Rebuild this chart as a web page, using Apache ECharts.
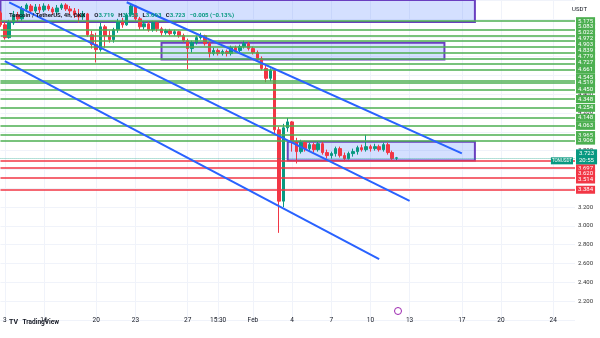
<!DOCTYPE html>
<html><head><meta charset="utf-8">
<script src="https://cdn.jsdelivr.net/npm/echarts@6/dist/echarts.min.js"></script>
<style>html,body{margin:0;padding:0;background:#fff}#c{width:600px;height:338px}</style>
</head><body><div id="c"></div>
<script>
// ---- data ----
const opens = [5.263,5.136,5.000,5.157,5.242,5.200,5.305,5.336,5.284,5.326,
5.294,5.336,5.305,5.273,5.315,5.347,5.305,5.284,5.242,5.221,
5.252,5.031,4.926,4.873,5.115,5.021,4.979,5.084,5.168,5.136,
5.242,5.336,5.200,5.115,5.147,5.084,5.157,5.094,5.052,5.073,
5.042,5.063,5.021,4.968,4.884,4.947,5.000,5.021,4.936,4.831,
4.863,4.831,4.852,4.831,4.894,4.863,4.905,4.936,4.884,4.842,
4.779,4.673,4.568,4.652,4.021,3.263,4.042,4.105,3.894,3.789,
3.884,3.821,3.863,3.810,3.873,3.779,3.747,3.768,3.821,3.747,
3.715,3.768,3.789,3.831,3.810,3.842,3.821,3.842,3.810,3.863,
3.779,3.719];
const closes = [5.136,5.000,5.157,5.242,5.200,5.305,5.347,5.284,5.326,5.294,
5.336,5.305,5.273,5.315,5.347,5.305,5.284,5.242,5.221,5.252,
5.031,4.926,4.873,5.115,5.021,4.979,5.084,5.168,5.136,5.242,
5.336,5.200,5.115,5.147,5.084,5.157,5.094,5.052,5.073,5.042,
5.063,5.021,4.968,4.884,4.947,5.000,5.021,4.936,4.831,4.863,
4.831,4.852,4.831,4.894,4.863,4.905,4.936,4.884,4.842,4.779,
4.673,4.568,4.652,4.021,3.263,4.042,4.105,3.894,3.789,3.884,
3.821,3.863,3.810,3.873,3.779,3.747,3.768,3.821,3.747,3.715,
3.768,3.789,3.831,3.810,3.842,3.821,3.842,3.810,3.863,3.779,
3.715,3.723];
const lows = [5.115,4.979,4.989,5.136,5.168,5.179,5.273,5.263,5.263,5.263,
5.273,5.284,5.242,5.252,5.294,5.284,5.252,5.210,5.157,5.189,
5.010,4.884,4.736,4.852,4.894,4.947,4.947,5.052,5.105,5.126,
5.221,5.179,5.084,5.084,5.063,5.063,5.063,5.021,5.031,5.021,
5.021,5.000,4.947,4.663,4.842,4.926,4.979,4.915,4.789,4.810,
4.810,4.810,4.800,4.810,4.842,4.842,4.884,4.863,4.821,4.757,
4.652,4.526,4.536,3.979,2.926,3.200,4.000,3.789,3.663,3.768,
3.789,3.789,3.779,3.789,3.757,3.715,3.715,3.736,3.726,3.684,
3.705,3.736,3.757,3.789,3.789,3.789,3.800,3.789,3.789,3.757,
3.694,3.693];
const highs = [5.284,5.179,5.189,5.284,5.273,5.336,5.365,5.357,5.357,5.357,
5.365,5.357,5.326,5.347,5.365,5.365,5.336,5.315,5.305,5.284,
5.263,5.073,5.052,5.157,5.136,5.073,5.105,5.200,5.210,5.263,
5.365,5.347,5.221,5.179,5.168,5.179,5.168,5.115,5.094,5.094,
5.084,5.073,5.042,4.989,4.968,5.021,5.052,5.031,4.957,4.894,
4.884,4.873,4.873,4.915,4.915,4.926,4.968,4.957,4.905,4.863,
4.800,4.715,4.673,4.673,4.052,4.084,4.147,4.115,3.936,3.915,
3.905,3.884,3.884,3.894,3.894,3.810,3.789,3.842,3.842,3.779,
3.789,3.821,3.852,3.863,3.968,3.863,3.873,3.863,3.884,3.884,
3.800,3.733];

const slotCount = 133;
const tickIdx  = [1,10,22,31,43,50,58,67,76,85,94,106,115,127];
const tickText = ['3','16','20','23','27','15:30','Feb','4','7','10','13','17','20','24'];
const yTickShown = ['4.400','4.200','3.800','3.200','3.000','2.800','2.600','2.400','2.200'];

const greenLevels = [5.175,5.083,5.022,4.972,4.903,4.839,4.779,4.727,4.661,4.545,4.519,4.450,4.348,4.254,4.148,4.063,3.965,3.906];
const redLevels = [3.697,3.620,3.514,3.384];
const lastPrice = 3.723;
const countdown = '20:55';
const symbolName = 'TONUSDT';

const boxStart = [0, 37, 66];
const boxEnd   = [109, 102, 109];
const boxLow   = [5.165, 4.768, 3.694];
const boxHigh  = [5.45, 4.947, 3.894];

const trendStartX = [2, 29, 1];
const trendStartP = [5.375, 5.376, 4.751];
const trendEndX   = [94, 106, 87];
const trendEndP   = [3.266, 3.770, 2.647];

// ---- styling (label nudges so stacked price tags do not collide, like the original) ----
const greenLabelShift = [0,-3,-3,-2,-2,-2,-2,-1,0,-3,0,0,0,0,0,0,0,0];
const redLabelShift = [8,6,2,0];

// ---- build ----
const UP = '#089981', DOWN = '#f23645', GREEN = '#4caf50', BLUE = '#2962ff';
const categories = Array.from({length: slotCount}, (_, i) => String(i));
const candles = opens.map((o, i) => [o, closes[i], lows[i], highs[i]]);

const levelLabel = (bg, dy) => ({
  show: true, position: 'end', distance: 1, offset: [0, dy || 0],
  formatter: p => p.name,
  color: '#fff', backgroundColor: bg, fontSize: 6, fontFamily: 'Roboto',
  padding: [1, 2, 0, 2], lineHeight: 7
});

const markLineData = [];
greenLevels.forEach((v, i) => markLineData.push({
  name: v.toFixed(3), yAxis: v, lineStyle: {color: GREEN, width: 1.5, type: 'solid', opacity: 1}, label: levelLabel(GREEN, greenLabelShift[i])
}));
redLevels.forEach((v, i) => markLineData.push({
  name: v.toFixed(3), yAxis: v, lineStyle: {color: DOWN, width: 1.5, type: 'solid', opacity: 1}, label: levelLabel(DOWN, redLabelShift[i])
}));
markLineData.push({
  name: lastPrice.toFixed(3) + '\n' + countdown,
  yAxis: lastPrice, lineStyle: {color: 'rgba(8,153,129,0.6)', width: 1, type: 'dotted', opacity: 1},
  label: Object.assign(levelLabel(UP, -1), {padding: [1, 3, 0, 3]})
});
trendStartX.forEach((x, i) => markLineData.push([
  {coord: [trendStartX[i], trendStartP[i]], lineStyle: {color: BLUE, width: 2, type: 'solid', opacity: 1}, label: {show: false}},
  {coord: [trendEndX[i], trendEndP[i]]}
]));

const markAreaData = boxStart.map((x, i) => [
  {coord: [boxStart[i], boxHigh[i]]},
  {coord: [boxEnd[i], boxLow[i]]}
]);

const chart = echarts.init(document.getElementById('c'), null, {renderer: 'canvas'});
chart.setOption({
  animation: false,
  backgroundColor: '#fff',
  textStyle: {fontFamily: 'Roboto'},
  title: [
    {left: 4, top: 1, text: '{n|Toncoin / TetherUS, 4h, OKX}  {k|O}{v|3.719} {k|H}{v|3.733} {k|L}{v|3.693} {k|C}{v|3.723} {v|−0.005 (−0.13%)}',
      textStyle: {rich: {
        n: {fontSize: 6, color: '#131722', fontFamily: 'Roboto'},
        k: {fontSize: 6, color: '#131722', fontFamily: 'Roboto'},
        v: {fontSize: 6, color: '#089981', fontFamily: 'Roboto'}}}},
    {right: 8, top: 1, text: 'USDT', textStyle: {fontSize: 6, color: '#131722', fontWeight: 'normal', fontFamily: 'Roboto'}},
    {left: 4, bottom: 2, text: '{l|TV} {t|TradingView}',
      textStyle: {rich: {
        l: {fontSize: 7, fontWeight: 'bold', color: '#131722', fontFamily: 'Roboto'},
        t: {fontSize: 6.5, color: '#131722', fontFamily: 'Roboto'}}}}
  ],
  grid: {left: 0, right: 25, top: -3, bottom: 18, containLabel: false},
  xAxis: {
    type: 'category', data: categories, boundaryGap: false,
    axisLine: {show: false}, axisTick: {show: false},
    axisLabel: {
      interval: (idx) => tickIdx.includes(idx),
      formatter: (val) => { const k = tickIdx.indexOf(Number(val)); return k >= 0 ? tickText[k] : ''; },
      fontSize: 6.5, color: '#131722', margin: 0, verticalAlign: 'middle', fontFamily: 'Roboto'
    },
    splitLine: {show: true, interval: (idx) => tickIdx.includes(idx), lineStyle: {color: '#f0f3fa', width: 1}}
  },
  yAxis: {
    type: 'value', position: 'right', min: 2.0, max: 5.4, interval: 0.2, scale: false,
    axisLine: {show: false}, axisTick: {show: false},
    axisLabel: {
      formatter: v => { const s = Number(v).toFixed(3); return yTickShown.includes(s) ? s : ''; },
      fontSize: 6, color: '#333', margin: 3, fontFamily: 'Roboto'
    },
    splitLine: {show: true, lineStyle: {color: '#f0f3fa', width: 1}}
  },
  series: [{
    type: 'candlestick', data: candles, barWidth: 3, clip: false,
    itemStyle: {color: UP, color0: DOWN, borderColor: UP, borderColor0: DOWN, borderWidth: 1},
    markArea: {
      silent: true, data: markAreaData,
      itemStyle: {color: 'rgba(41,98,255,0.2)', borderColor: '#6a3fc0', borderWidth: 2}
    },
    markLine: {
      silent: true, symbol: ['none', 'none'], animation: false, precision: 3,
      lineStyle: {color: GREEN, width: 1.5, type: 'solid', opacity: 1},
      data: markLineData
    }
  }, {
    // symbol tag sitting left of the last-price tag
    type: 'line', data: [], silent: true,
    markLine: {
      silent: true, symbol: ['none', 'none'], animation: false, precision: 3,
      lineStyle: {width: 0, color: 'rgba(0,0,0,0)'},
      data: [{yAxis: lastPrice, name: symbolName, label: {show: true, position: 'insideEndTop', verticalAlign: 'middle', distance: [2, 0],
        offset: [0, 3], formatter: p => p.name, color: '#fff', backgroundColor: UP, fontSize: 4.5, fontFamily: 'Roboto',
        padding: [1, 1, 0, 1], lineHeight: 6}}]
    }
  }],
  graphic: [{type: 'circle', shape: {cx: 398, cy: 311, r: 3.5}, style: {fill: '#fff', stroke: '#9c27b0', lineWidth: 1}}]
});
</script></body></html>
